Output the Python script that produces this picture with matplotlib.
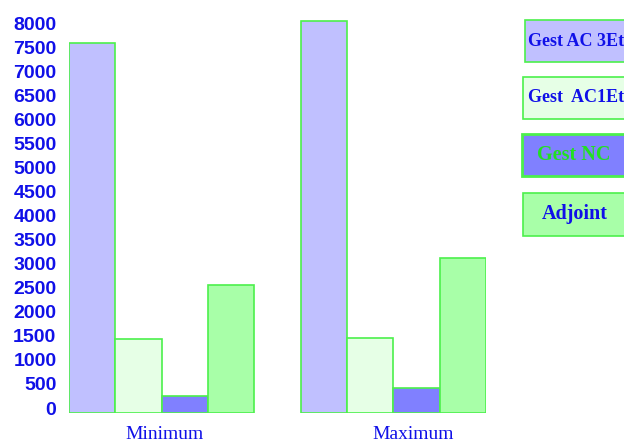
import matplotlib
matplotlib.use("Agg")
import matplotlib.pyplot as plt
import matplotlib.transforms as mtransforms
from matplotlib.patches import Rectangle
import numpy as np

categories = ["Minimum", "Maximum"]
series_names = ["Gest AC 3Et", "Gest  AC1Et", "Gest NC", "Adjoint"]
gest_ac3 = [7690, 8150]
gest_ac1 = [1530, 1550]
gest_nc = [350, 530]
adjoint = [2660, 3220]
yticks = list(range(0, 8001, 500))

colors = ["#c0c0ff", "#e6ffe6", "#8080ff", "#a8ffa8"]
edge = "#4cf04c"
blue = "#1010e8"

W, H = 624, 448
fig = plt.figure(figsize=(W / 100, H / 100), dpi=100)
fig.patch.set_facecolor("white")

# axes box in pixels: left 69, right 486, baseline at y=413
ax = fig.add_axes([69 / W, 35 / H, 417 / W, 394.4 / H])
ax.set_xlim(-2, 7)
ax.set_ylim(0, 8200)

x = np.array([0, 5])
width = 1.0
for i, vals in enumerate([gest_ac3, gest_ac1, gest_nc, adjoint]):
    ax.bar(x + (i - 1.5) * width, vals, width, color=colors[i],
           edgecolor=edge, linewidth=1.2)

for s in ax.spines.values():
    s.set_visible(False)

ax.set_yticks(yticks)
ax.set_yticklabels([str(v) for v in yticks])
ax.tick_params(axis="y", length=0, pad=9, labelsize=14, labelcolor=blue)
offset = mtransforms.ScaledTranslation(0, 0.05, fig.dpi_scale_trans)
for lab in ax.get_yticklabels():
    lab.set_fontweight("bold")
    lab.set_fontfamily("Liberation Sans")
    lab.set_transform(lab.get_transform() + offset)

ax.set_xticks(x + np.array([0.06, 0.43]))
ax.set_xticklabels(categories, fontfamily="Liberation Serif", fontsize=14,
                   color=blue)
ax.tick_params(axis="x", length=0, pad=9)

# legend boxes on the right (pixel coords from top)
boxes = [(525, 20, 42), (523, 77, 42), (522, 134, 42), (523, 193, 43)]
text_x = [528, 528, 537, 542]
text_size = [13, 13, 14.5, 14.5]
text_col = [blue, blue, "#22e022", blue]
for i, (bx, by, bh) in enumerate(boxes):
    lw = 2 if i == 2 else 1.2
    fig.add_artist(Rectangle((bx / W, 1 - (by + bh) / H), 130 / W, bh / H,
                             transform=fig.transFigure, facecolor=colors[i],
                             edgecolor=edge, linewidth=lw))
    fig.text(text_x[i] / W, 1 - (by + bh / 2) / H, series_names[i],
             ha="left", va="center", fontsize=text_size[i],
             fontweight="bold", fontfamily="Liberation Serif",
             color=text_col[i])

fig.savefig("out.png", dpi=100)
